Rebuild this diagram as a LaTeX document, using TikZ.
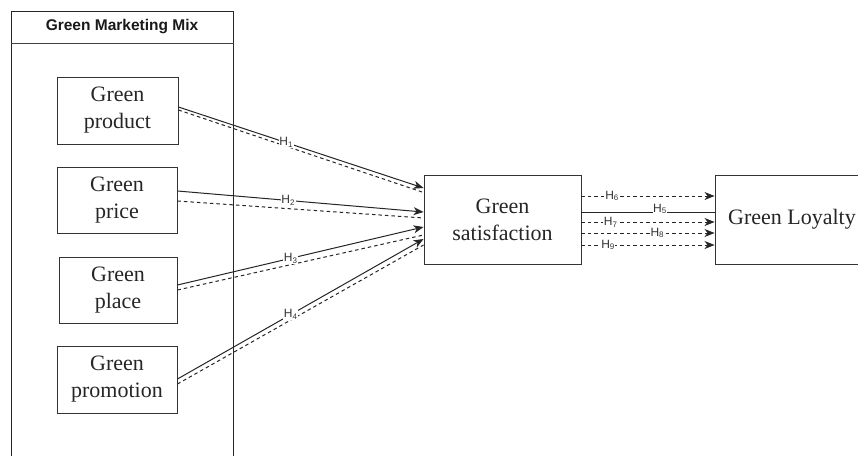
\documentclass[tikz,border=0pt]{standalone}
\usepackage{fontspec}
\setmainfont{Liberation Serif}
\newfontfamily\hfont{Liberation Sans}
\usetikzlibrary{arrows.meta,calc}
\tikzset{
  box/.style={draw=black!80, line width=0.9pt, fill=white, inner sep=0pt, align=center,
    font=\fontsize{22}{27}\selectfont, text=black!85},
  sol/.style={draw=black!85, line width=1pt},
  dsh/.style={draw=black!85, line width=1pt, dash pattern=on 3.5pt off 3pt},
  tip/.style={-{Stealth[length=10pt,width=8pt,inset=3pt]}},
  hl/.style={fill=white, inner sep=0.6pt, text=black!80, font=\hfont\fontsize{12}{13}\selectfont},
}
\begin{document}
\begin{tikzpicture}[x=1pt,y=-1pt]
\useasboundingbox (0,0) rectangle (858,455);
\clip (0,0) rectangle (858,455);
\fill[white] (0,0) rectangle (858,455);
% container
\draw[draw=black!85, line width=0.9pt] (11,470) -- (11,11) -- (233.5,11) -- (233.5,470);
\draw[draw=black!75, line width=0.9pt] (11,43) -- (233.5,43);
\node[font=\hfont\bfseries\fontsize{15.5}{18}\selectfont, text=black!90] (hdr) at (122,27) {Green Marketing Mix};
% nodes
\node[box, minimum width=121pt, minimum height=67pt] (prod) at (117.5,110.5) {Green\\product};
\node[box, minimum width=120pt, minimum height=66pt] (price) at (117,200) {Green\\price};
\node[box, minimum width=118pt, minimum height=66pt] (place) at (118,290) {Green\\place};
\node[box, minimum width=120pt, minimum height=67pt] (promo) at (117,379.5) {Green\\promotion};
\node[box, minimum width=157pt, minimum height=89pt] (sat) at (502.5,219.5) {Green\\satisfaction};
\node[box, minimum width=154pt, minimum height=89pt] (loy) at (792,219.5) {Green Loyalty};
% dashed left connectors
\draw[dsh] ([yshift=0.5pt]prod.east) -- ([yshift=27pt]sat.west);
\draw[dsh] ([yshift=-1pt]price.east) -- ([yshift=1.5pt]sat.west);
\draw[dsh] ([yshift=0pt]place.east) -- ([yshift=-15.5pt]sat.west);
\draw[dsh] ([yshift=-4.5pt]promo.east) -- ([yshift=-25.5pt]sat.west);
% solid left connectors
\draw[sol,tip] ([yshift=3.5pt]prod.east) -- node[hl, pos=0.44] (h1) {H\textsubscript{1}} ([yshift=31.5pt]sat.west);
\draw[sol,tip] ([yshift=9pt]price.east) -- node[hl, pos=0.45] (h2) {H\textsubscript{2}} ([yshift=7.5pt]sat.west);
\draw[sol,tip] ([yshift=5pt]place.east) -- node[hl, pos=0.46] (h3) {H\textsubscript{3}} ([yshift=-7.5pt]sat.west);
\draw[sol,tip] ([yshift=0.5pt]promo.east) -- node[hl, pos=0.46] (h4) {H\textsubscript{4}} ([yshift=-19.5pt]sat.west);
% right connectors
\draw[dsh,tip] ([yshift=23.5pt]sat.east) -- node[hl, pos=0.23] (h6) {H\textsubscript{6}} ([yshift=23.5pt]loy.west);
\draw[sol] ([yshift=7.5pt]sat.east) -- node[hl, pos=0.59, yshift=3pt] (h5) {H\textsubscript{5}} ([yshift=7.5pt]loy.west);
\draw[dsh,tip] ([yshift=-2.5pt]sat.east) -- node[hl, pos=0.22] (h7) {H\textsubscript{7}} ([yshift=-2.5pt]loy.west);
\draw[dsh,tip] ([yshift=-13.5pt]sat.east) -- node[hl, pos=0.57] (h8) {H\textsubscript{8}} ([yshift=-13.5pt]loy.west);
\draw[dsh,tip] ([yshift=-25.5pt]sat.east) -- node[hl, pos=0.2] (h9) {H\textsubscript{9}} ([yshift=-25.5pt]loy.west);
\end{tikzpicture}
\end{document}
